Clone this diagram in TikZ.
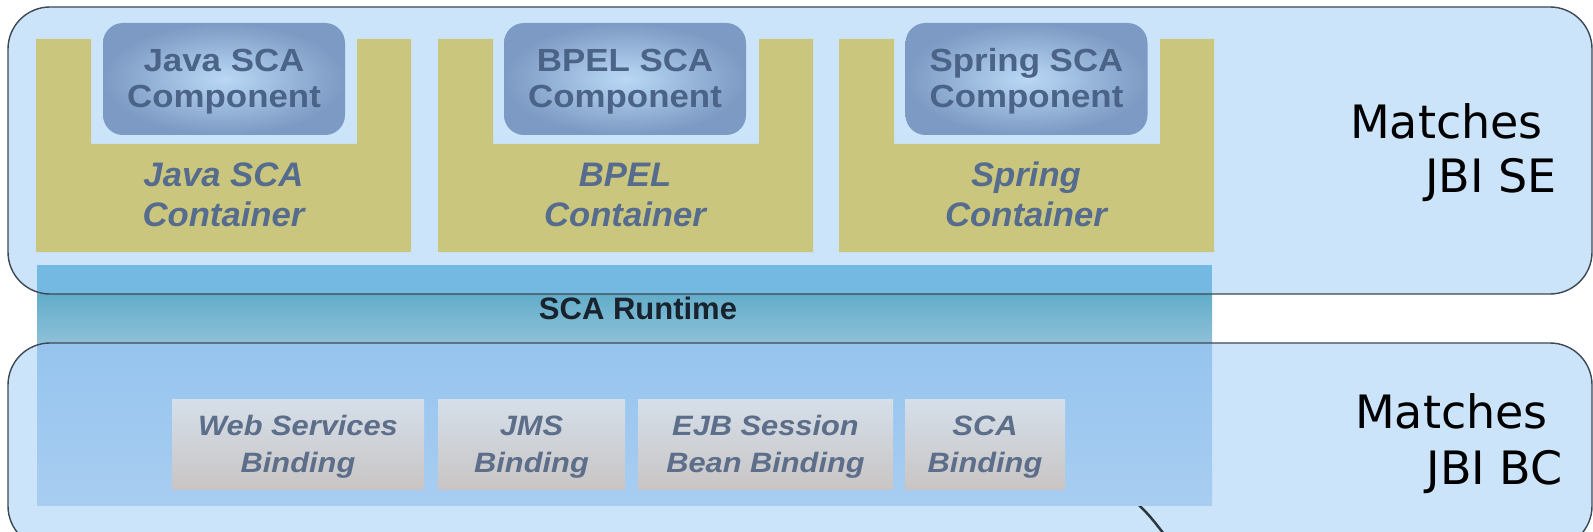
\documentclass[tikz,border=0pt]{standalone}
\usepackage{fontspec}
\setmainfont{Liberation Sans}
\newfontfamily\dejavu{DejaVu Sans}
\usepackage{graphicx}

\definecolor{rectfill}{RGB}{204,228,250}
\definecolor{rectline}{RGB}{60,72,82}
\definecolor{yel}{RGB}{203,198,126}
\definecolor{compin}{RGB}{186,216,245}
\definecolor{compout}{RGB}{124,154,195}
\definecolor{comptext}{RGB}{74,99,134}
\definecolor{conttext}{RGB}{86,108,142}
\definecolor{bandtop}{RGB}{116,185,225}
\definecolor{bandmid}{RGB}{98,174,202}
\definecolor{bandlow}{RGB}{143,191,216}
\definecolor{bindtop}{RGB}{150,196,238}
\definecolor{bindbot}{RGB}{168,205,241}
\definecolor{boxtop}{RGB}{213,223,234}
\definecolor{boxbot}{RGB}{201,197,196}
\definecolor{boxtext}{RGB}{92,110,138}
\definecolor{runtext}{RGB}{25,35,45}
\definecolor{pointcol}{RGB}{45,55,62}

\newcommand\wl[2]{\scalebox{#1}[1]{\begin{tabular}{@{}c@{}}#2\end{tabular}}}

\begin{document}
\begin{tikzpicture}[x=1pt,y=-1pt,
  zone/.style={fill=rectfill, rounded corners=42pt},
  zoneline/.style={draw=rectline, line width=1.4pt, rounded corners=42pt},
  container/.style={fill=yel},
  comp/.style={rounded corners=20pt, inner color=compin, outer color=compout,
    minimum width=242pt, minimum height=112pt, inner sep=0pt},
  complabel/.style={text=comptext, font=\fontsize{32}{36}\selectfont\bfseries, inner sep=0pt},
  contlabel/.style={text=conttext, font=\fontsize{34}{40}\selectfont\bfseries\itshape, inner sep=0pt},
  binding/.style={top color=boxtop, bottom color=boxbot, minimum height=90pt, inner sep=0pt},
  bindlabel/.style={text=boxtext, font=\fontsize{28}{37}\selectfont\bfseries\itshape, inner sep=0pt},
  runtime/.style={text=runtext, font=\fontsize{31}{36}\selectfont\bfseries, inner sep=0pt},
  matches/.style={font=\dejavu\fontsize{46}{54}\selectfont, inner sep=0pt, text=black},
  pointer/.style={draw=pointcol, line width=2.5pt}]

\useasboundingbox (0,0) rectangle (1593,532);
\fill[white] (0,0) rectangle (1593,532);

% zone fills
\path[zone] (8,7) rectangle (1592,294);
\path[zone] (8,343) rectangle (1592,548);

% pointer line
\coordinate (ptrA) at (1134,500);
\coordinate (ptrB) at (1167,538);
\draw[pointer] (ptrA) .. controls (1150,516) .. (ptrB);

% runtime band and binding area
\fill[bandtop] (37,265) rectangle (1212,294.5);
\shade[top color=bandmid, bottom color=bandlow] (37,294.5) rectangle (1212,343);
\shade[top color=bindtop, bottom color=bindbot] (37,343) rectangle (1212,505);

% containers
\foreach \x in {36,438,839}{
  \fill[container] (\x,39) -- ++(55,0) -- ++(0,105) -- ++(266,0) -- ++(0,-105)
    -- ++(54,0) -- ++(0,213) -- ++(-375,0) -- cycle;
}

% components
\node[comp] (jcomp) at (224,79) {};
\node[comp] (bcomp) at (625,79) {};
\node[comp] (scomp) at (1026.5,79) {};
\node[complabel] (jcompt) at (224,82.5) {\wl{1.09}{Java SCA\\Component}};
\node[complabel] (bcompt) at (625,82.5) {\wl{1.09}{BPEL SCA\\Component}};
\node[complabel] (scompt) at (1026.5,82.5) {\wl{1.09}{Spring SCA\\Component}};

% container labels
\node[contlabel] (jcont) at (223.5,198) {\wl{1.02}{Java SCA\\Container}};
\node[contlabel] (bcont) at (625,198) {\wl{1.02}{BPEL\\Container}};
\node[contlabel] (scont) at (1026,198) {\wl{1.02}{Spring\\Container}};

% runtime label
\node[runtime, anchor=base] (rt) at (638,319) {SCA Runtime};

% bindings
\node[binding, minimum width=252pt] (ws) at (298,444) {};
\node[binding, minimum width=187pt] (jms) at (531.5,444) {};
\node[binding, minimum width=255pt] (ejb) at (765.5,444) {};
\node[binding, minimum width=160pt] (scab) at (985,444) {};
\node[bindlabel] (wst) at (298,447) {\wl{1.1}{Web Services\\Binding}};
\node[bindlabel] (jmst) at (531.5,447) {\wl{1.1}{JMS\\Binding}};
\node[bindlabel] (ejbt) at (765.5,447) {\wl{1.1}{EJB Session\\Bean Binding}};
\node[bindlabel] (scabt) at (985,447) {\wl{1.1}{SCA\\Binding}};

% zone borders
\draw[zoneline] (8,7) rectangle (1592,294);
\draw[zoneline] (8,343) rectangle (1592,548);

% zone labels
\node[matches, anchor=base east] (se1) at (1543,139) {Matches};
\node[matches, anchor=base east] (se2) at (1557,193) {JBI SE};
\node[matches, anchor=base east] (bc1) at (1548,428) {Matches};
\node[matches, anchor=base east] (bc2) at (1563,484) {JBI BC};
\end{tikzpicture}
\end{document}
